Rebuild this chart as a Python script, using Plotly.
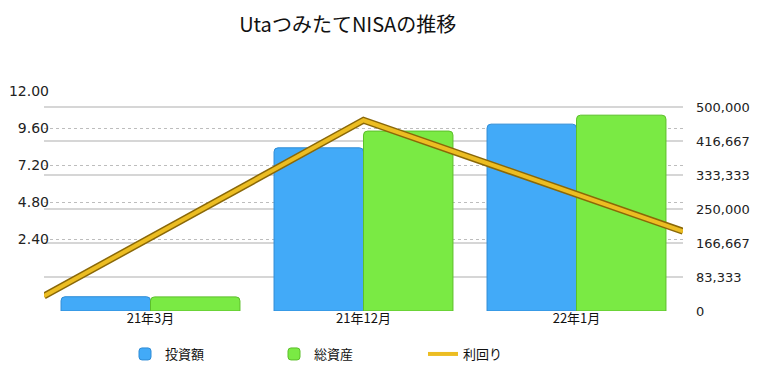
import plotly.graph_objects as go

categories = ["21年3月", "21年12月", "22年1月"]
invested = [35000, 400000, 458000]      # 投資額
total_assets = [34600, 441000, 480000]  # 総資産
yield_pct = [-1.3, 10.1, 2.9]            # 利回り
left_ticks = [2.4, 4.8, 7.2, 9.6, 12.0]
right_ticks = [0, 83333, 166667, 250000, 333333, 416667, 500000]

FONT = "Noto Sans CJK JP, Noto Sans, sans-serif"
NUMFONT = "DejaVu Sans, sans-serif"
BLUE = "#42aaf8"
GREEN = "#7aea44"
GOLD = "#ecbd22"

W, H = 771, 377
fig = go.Figure()
fig.add_trace(go.Bar(
    x=categories, y=invested, name="投資額",
    marker=dict(color=BLUE, line=dict(color="#2e8cd6", width=1)),
))
fig.add_trace(go.Bar(
    x=categories, y=total_assets, name="総資産",
    marker=dict(color=GREEN, line=dict(color="#5cbf2a", width=1)),
))
# 利回り line on overlaying axes (numeric x so it spans the plot edges)
line_x = list(range(len(categories)))
fig.add_trace(go.Scatter(
    x=line_x, y=yield_pct, xaxis="x2", yaxis="y2", mode="lines",
    line=dict(color="#8a6808", width=7), showlegend=False, hoverinfo="skip",
))
fig.add_trace(go.Scatter(
    x=line_x, y=yield_pct, xaxis="x2", yaxis="y2", mode="lines",
    name="利回り", line=dict(color=GOLD, width=4),
))

fig.update_layout(
    width=W, height=H,
    margin=dict(l=44, r=88, t=91, b=66, autoexpand=False),
    paper_bgcolor="white", plot_bgcolor="white",
    font=dict(family=FONT, size=13, color="#222"),
    title=dict(text="UtaつみたてNISAの推移", xref="container", x=0.451, xanchor="center",
               yref="container", y=1 - 25 / H, yanchor="middle",
               font=dict(size=20, color="#111")),
    barmode="group", bargap=0.16, bargroupgap=0.0, barcornerradius=4,
    xaxis=dict(type="category", showgrid=False, zeroline=False, showline=False,
               ticks="", tickfont=dict(size=13, color="#111"), ticklabelstandoff=-2,
               automargin=False),
    xaxis2=dict(overlaying="x", range=[0, 2], visible=False),
    yaxis=dict(side="right", range=[0, 539216], tickvals=right_ticks,
               tickformat=",", showgrid=True, gridcolor="#d6d6d6", gridwidth=1.5,
               zeroline=False, showline=False, ticks="", ticklabelstandoff=12,
               tickfont=dict(family=NUMFONT, size=13, color="#222"), automargin=False),
    yaxis2=dict(overlaying="y", side="left", range=[-2.27, 12.0], tickvals=left_ticks,
                tickformat=".2f", showgrid=True, gridcolor="#bdbdbd", griddash="dot",
                gridwidth=1, zeroline=False, showline=False, ticks="",
                ticklabelstandoff=-6, automargin=False,
                tickfont=dict(family=NUMFONT, size=14, color="#222")),
    legend=dict(orientation="h", xref="container", x=125 / W, xanchor="left",
                yref="container", y=1 - 354 / H, yanchor="middle",
                entrywidth=104, font=dict(size=13, color="#111"),
                traceorder="normal"),
)

fig.write_html("out.html", config={"displayModeBar": False},
               post_script="document.body.style.margin='0px';")
